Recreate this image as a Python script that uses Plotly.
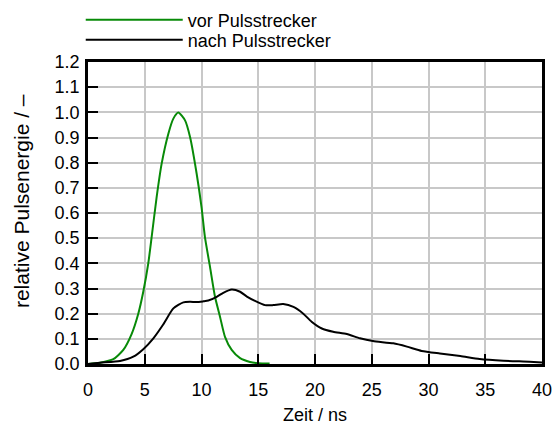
import plotly.graph_objects as go

# vor Pulsstrecker (green)
t_vor = [0.0, 1.06, 2.23, 3.11, 3.85, 4.43, 4.87, 5.31, 5.61, 6.05, 6.49, 7.08, 7.52, 7.96,
         8.55, 8.99, 9.57, 10.0, 10.3, 10.75, 11.19, 11.63, 12.07, 12.66, 13.4, 14.27, 15.0, 16.0]
e_vor = [0.0, 0.005, 0.019, 0.056, 0.12, 0.20, 0.287, 0.40, 0.505, 0.664, 0.796, 0.915, 0.975, 0.999,
         0.968, 0.902, 0.757, 0.624, 0.505, 0.386, 0.267, 0.188, 0.108, 0.056, 0.023, 0.008, 0.003, 0.002]

# nach Pulsstrecker (black)
t_nach = [0.0, 1.06, 2.82, 3.99, 4.87, 5.76, 6.64, 7.52, 8.4, 9.0, 9.57, 10.16, 10.6, 11.34, 11.92,
          12.66, 13.4, 14.0, 14.71, 15.6, 16.3, 17.2, 18.1, 18.97, 19.7, 20.6, 21.6, 22.8, 23.96,
          25.1, 26.9, 28.1, 29.4, 31.0, 32.8, 34.5, 36.6, 38.9, 40.0]
e_nach = [0.0, 0.005, 0.012, 0.029, 0.059, 0.102, 0.158, 0.221, 0.245, 0.247, 0.246, 0.249, 0.252, 0.267, 0.283,
          0.296, 0.287, 0.268, 0.251, 0.234, 0.234, 0.238, 0.227, 0.20, 0.168, 0.141, 0.128, 0.119, 0.102,
          0.091, 0.082, 0.069, 0.052, 0.042, 0.032, 0.02, 0.013, 0.009, 0.006]

x_ticks = [0, 5, 10, 15, 20, 25, 30, 35, 40]
y_ticks = [0.0, 0.1, 0.2, 0.3, 0.4, 0.5, 0.6, 0.7, 0.8, 0.9, 1.0, 1.1, 1.2]
y_ticklabels = [f"{v:.1f}" for v in y_ticks]

FONT = "Liberation Sans, Arial, sans-serif"
FS = 18

fig = go.Figure()
fig.add_trace(go.Scatter(x=t_vor, y=e_vor, mode="lines", name="vor Pulsstrecker", legend="legend",
                         showlegend=True,
                         line=dict(color="#088a08", width=2, shape="spline", smoothing=0.6)))
fig.add_trace(go.Scatter(x=t_nach, y=e_nach, mode="lines", name="nach Pulsstrecker", legend="legend2",
                         showlegend=True,
                         line=dict(color="#000000", width=2, shape="spline", smoothing=0.6)))

axis_common = dict(showgrid=True, gridcolor="#c8c8c8", gridwidth=1.5,
                   showline=True, linecolor="black", linewidth=2.5, mirror=True,
                   ticks="inside", ticklen=10, tickwidth=2, tickcolor="black",
                   zeroline=False, ticklabeloverflow="allow",
                   tickfont=dict(family=FONT, size=FS, color="black"))

fig.update_xaxes(range=[0, 40], tickvals=x_ticks, ticktext=[str(v) for v in x_ticks],
                 ticklabelstandoff=8,
                 title=dict(text="Zeit / ns", font=dict(family=FONT, size=FS, color="black"), standoff=10),
                 **axis_common)
fig.update_yaxes(range=[0, 1.2], tickvals=y_ticks, ticktext=y_ticklabels,
                 ticklabelstandoff=2,
                 **axis_common)

# y-axis title placed as rotated text
fig.add_annotation(text="relative Pulsenergie / –", textangle=-90,
                   xref="paper", yref="paper", x=-0.145, y=0.54,
                   xanchor="center", yanchor="middle", showarrow=False,
                   font=dict(family=FONT, size=21, color="black"))

legend_common = dict(xanchor="left", yanchor="top", itemwidth=97,
                     bgcolor="rgba(0,0,0,0)", font=dict(family=FONT, size=FS, color="black"))

fig.update_layout(
    width=552, height=426,
    showlegend=True,
    margin=dict(l=88, r=10, t=62, b=62, autoexpand=False),
    paper_bgcolor="white", plot_bgcolor="white",
    font=dict(family=FONT, size=FS, color="black"),
    legend=dict(x=-0.016, y=1.2, **legend_common),
    legend2=dict(x=-0.016, y=1.134, **legend_common),
)

fig.write_html("out.html")
